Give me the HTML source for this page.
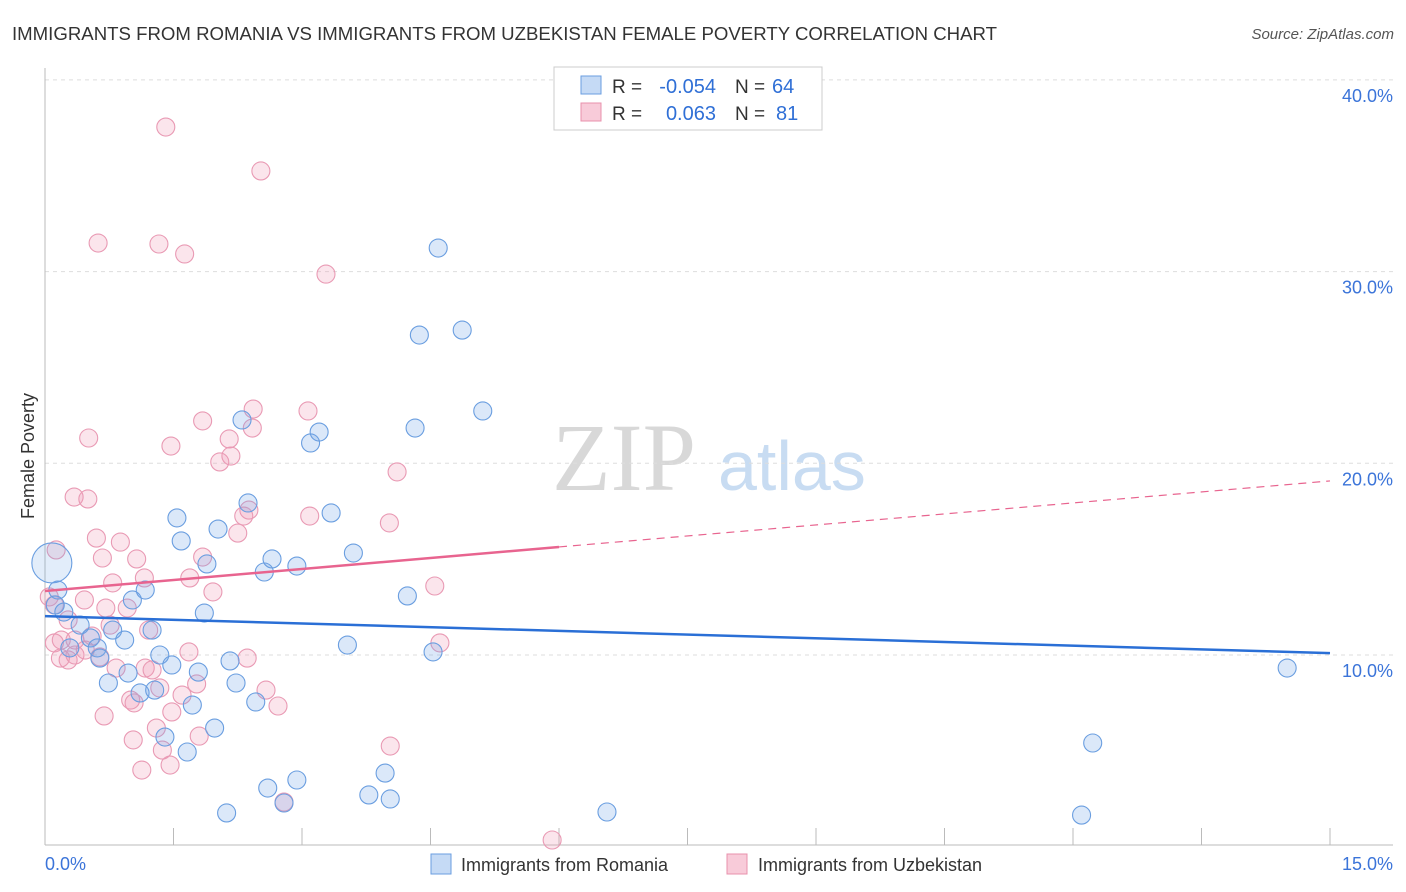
<!DOCTYPE html>
<html><head><meta charset="utf-8"><style>
body{margin:0;background:#fff;font-family:"Liberation Sans",sans-serif}
</style></head><body>
<svg id="chart" width="1406" height="892" xmlns="http://www.w3.org/2000/svg" style="display:block">
<text x="12" y="40" font-size="18" fill="#333" textLength="985" lengthAdjust="spacingAndGlyphs">IMMIGRANTS FROM ROMANIA VS IMMIGRANTS FROM UZBEKISTAN FEMALE POVERTY CORRELATION CHART</text>
<text x="1394" y="39" font-size="15" fill="#555" text-anchor="end" font-style="italic">Source: ZipAtlas.com</text>
<g>
<text x="552" y="490" font-size="96" fill="#d8d8d8" font-family="Liberation Serif,serif">ZIP</text>
<text x="718" y="490" font-size="70" fill="#c8dcf2">atlas</text>
</g>
<g id="grid"></g>
<g id="axes"></g>
<g id="points"></g>
<g id="trends"></g>
<text transform="translate(34,456) rotate(-90)" font-size="18" fill="#333" text-anchor="middle">Female Poverty</text>
<g>
<rect x="554" y="67" width="268" height="63" fill="#fff" stroke="#ccc"/>
<rect x="581" y="76" width="20" height="18" fill="#c5daf5" stroke="#6a9ee0"/>
<rect x="581" y="103" width="20" height="18" fill="#f8cbd9" stroke="#e890ac"/>
<text x="612" y="93" font-size="19" fill="#333">R =</text>
<text x="716" y="93" font-size="20" fill="#2f6fd6" text-anchor="end">-0.054</text>
<text x="735" y="93" font-size="19" fill="#333">N =</text>
<text x="772" y="93" font-size="20" fill="#2f6fd6">64</text>
<text x="612" y="120" font-size="19" fill="#333">R =</text>
<text x="716" y="120" font-size="20" fill="#2f6fd6" text-anchor="end">0.063</text>
<text x="735" y="120" font-size="19" fill="#333">N =</text>
<text x="776" y="120" font-size="20" fill="#2f6fd6">81</text>
</g>
<g>
<rect x="431" y="854" width="20" height="20" fill="#c5daf5" stroke="#6a9ee0"/>
<text x="461" y="871" font-size="18" fill="#333">Immigrants from Romania</text>
<rect x="727" y="854" width="20" height="20" fill="#f8cbd9" stroke="#e890ac"/>
<text x="758" y="871" font-size="18" fill="#333">Immigrants from Uzbekistan</text>
</g>
</svg>
<script>
const blueX=[.08,.15,.12,.22,.41,.29,.53,.61,.64,.74,.79,.93,.97,1.02,1.17,1.11,1.25,1.28,1.34,1.40,1.48,1.54,1.59,1.66,1.72,1.79,1.86,1.89,1.98,2.02,2.12,2.16,2.23,2.30,2.37,2.46,2.56,2.60,2.65,2.79,2.94,2.94,3.10,3.20,3.34,3.53,3.60,3.78,3.97,4.03,4.23,4.32,4.37,4.53,4.59,4.87,5.11,6.56,12.10,12.23,14.50];
const blueY=[14.8,13.39,12.61,12.24,11.56,10.37,10.89,10.37,9.84,8.54,11.3,10.78,9.06,12.87,13.39,8.02,11.3,8.17,10.0,5.72,9.48,17.15,15.95,4.94,7.39,9.11,12.19,14.75,6.19,16.57,1.76,9.69,8.54,22.26,17.93,7.55,14.33,3.06,15.01,2.28,14.64,3.48,21.06,21.63,17.41,10.52,15.32,2.70,3.84,2.49,13.08,21.84,26.69,10.16,31.23,26.95,22.73,1.81,1.65,5.41,9.32];
const pinkX=[1.41,2.52,.62,1.33,1.63,3.28,3.07,1.84,2.43,.51,2.15,1.47,2.42,2.17,2.04,4.11,.34,.50,2.38,2.32,3.09,4.02,2.25,.60,.88,.13,.67,1.07,1.84,1.69,1.16,.79,4.55,1.96,.46,.05,.11,.71,.96,.27,.76,1.21,1.68,.11,.19,.35,.47,.27,.64,.18,.35,.83,1.17,1.25,.55,2.36,4.61,1.34,1.60,1.77,2.58,2.72,1.00,1.04,1.48,.69,1.30,1.80,1.03,4.03,1.37,1.13,1.46,2.79,5.92];
const pinkY=[37.54,35.25,31.49,31.44,30.92,29.87,22.73,22.21,22.83,21.32,21.27,20.9,21.84,20.38,20.07,19.55,18.24,18.14,17.56,17.25,17.25,16.89,16.36,16.1,15.89,15.48,15.06,15.01,15.11,14.02,14.02,13.76,13.6,13.29,12.87,13.03,12.61,12.45,12.45,11.83,11.56,11.3,10.16,10.63,10.78,10.78,10.26,9.74,9.9,9.84,10.0,9.32,9.32,9.22,10.99,9.84,10.63,8.28,7.91,8.49,8.17,7.34,7.65,7.5,7.03,6.82,6.19,5.77,5.57,5.25,5.04,4.0,4.26,2.33,0.35];
const yTicks=[10,20,30,40];
const yTickLabels=["10.0%","20.0%","30.0%","40.0%"];
const xTicks=[1.5,3,4.5,6,7.5,9,10.5,12,13.5,15];
const blueTrend=[12.03,10.1];
const pinkTrend=[13.34,19.08];
const pinkSolidEnd=6;
const NS="http://www.w3.org/2000/svg";
const X0=45,X1=1330,YB=846.7,PX=(X1-X0)/15,PY=19.17;
const sx=v=>X0+v*PX, sy=v=>YB-v*PY;
function mk(t,a,p){const e=document.createElementNS(NS,t);for(const k in a)e.setAttribute(k,a[k]);p.appendChild(e);return e;}
const grid=document.getElementById('grid'),axes=document.getElementById('axes'),pts=document.getElementById('points'),tr=document.getElementById('trends');
yTicks.forEach((v,i)=>{
 const l=mk('line',{x1:X0,x2:1393,y1:sy(v),y2:sy(v),stroke:'#ddd','stroke-dasharray':'4,4'},grid);
 
 
 const t=mk('text',{x:1393,y:sy(v)+22,'text-anchor':'end','font-size':18,fill:'#3b74d9'},axes);
 t.textContent=yTickLabels[i];
 
 
});
const ax=mk('line',{x1:X0,x2:1393,y1:845,y2:845,stroke:'#bbb'},axes);


const ay=mk('line',{x1:X0,x2:X0,y1:68,y2:845,stroke:'#bbb'},axes);


xTicks.forEach(v=>{
 const l=mk('line',{x1:sx(v),x2:sx(v),y1:828,y2:845,stroke:'#bbb'},axes);
 
 
});
const xl=mk('text',{x:45,y:870,'font-size':18,fill:'#3b74d9'},axes);xl.textContent='0.0%';


const xr=mk('text',{x:1393,y:870,'font-size':18,fill:'#3b74d9','text-anchor':'end'},axes);xr.textContent='15.0%';


function dots(xs,ys,fill,stroke,name){xs.forEach((x,i)=>{
 const big=i===0&&name==='romania-point';
 const c=mk('circle',{cx:sx(x),cy:sy(ys[i]),r:big?20:9,fill:big?'rgba(110,165,230,0.2)':fill,stroke:stroke,'stroke-width':1.1},pts);
 
 
});}
dots(pinkX,pinkY,'rgba(240,150,180,0.25)','#e99ab4','uzbekistan-point');
dots(blueX,blueY,'rgba(110,165,230,0.25)','#6a9ee0','romania-point');
const bt=mk('line',{x1:sx(0),y1:sy(blueTrend[0]),x2:sx(15),y2:sy(blueTrend[1]),stroke:'#2a6fd6','stroke-width':2.5},tr);


const pAt=v=>pinkTrend[0]+(pinkTrend[1]-pinkTrend[0])*v/15;
const ps=mk('line',{x1:sx(0),y1:sy(pinkTrend[0]),x2:sx(pinkSolidEnd),y2:sy(pAt(pinkSolidEnd)),stroke:'#e8648f','stroke-width':2.5},tr);


const pd=mk('line',{x1:sx(pinkSolidEnd),y1:sy(pAt(pinkSolidEnd)),x2:sx(15),y2:sy(pinkTrend[1]),stroke:'#e8648f','stroke-width':1.2,'stroke-dasharray':'8,6'},tr);


</script>
</body></html>
